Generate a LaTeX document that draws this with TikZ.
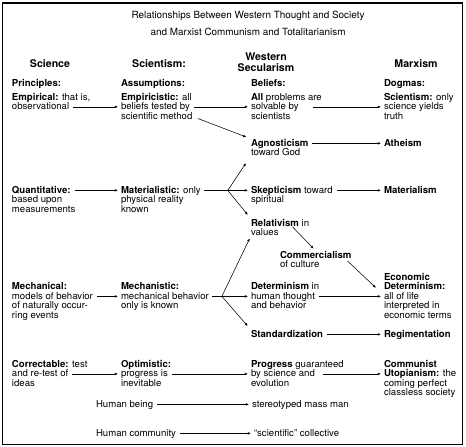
\documentclass[tikz,border=0pt]{standalone}
\usepackage{fontspec}
\setmainfont{TeX Gyre Heros}
\usetikzlibrary{arrows.meta,calc}

\begin{document}
\begin{tikzpicture}[x=1pt, y=-1pt,
    every node/.style={font=\fontsize{9.6}{9.5}\selectfont, anchor=base west, inner sep=0pt, outer sep=0pt},
    ttl/.style={font=\fontsize{9.9}{11}\selectfont, anchor=base},
    hd/.style={font=\fontsize{10.6}{12}\selectfont\bfseries, anchor=base},
    arr/.style={-{Latex[length=3.2pt,width=2.6pt]}, line width=0.55pt, shorten <=4pt, shorten >=3pt},
    ln/.style={line width=0.55pt, shorten <=3pt}]
    \useasboundingbox (0,0) rectangle (466,447);
    % Frame
    \draw[line width=1.6pt] (2.5,3) rectangle (462.5,444.5);

    % Title
    \node[ttl] (t1) at (248,18.5) {Relationships Between Western Thought and Society};
    \node[ttl] (t2) at (248,35.5) {and Marxist Communism and Totalitarianism};

    % Column heads
    \node[hd] (hSci) at (50,67) {Science};
    \node[hd] (hScm) at (159,67) {Scientism:};
    \node[hd] (hWes) at (266,60) {Western};
    \node[hd] (hSec) at (266,71.5) {Secularism};
    \node[hd] (hMar) at (416,67) {Marxism};
    \node (pPri) at (12,86) {\textbf{Principles:}};
    \node (pAss) at (121,86) {\textbf{Assumptions:}};
    \node (pBel) at (251,86) {\textbf{Beliefs:}};
    \node (pDog) at (384,86) {\textbf{Dogmas:}};

    % Empirical row
    \node (emp1) at (12,100) {\textbf{Empirical:} that is,};
    \node (emp2) at (12,109.5) {observational};
    \node (emc1) at (121,100) {\textbf{Empiricistic:} all};
    \node (emc2) at (121,109.5) {beliefs tested by};
    \node (emc3) at (121,119) {scientific method};
    \node (all1) at (251,100) {\textbf{All} problems are};
    \node (all2) at (251,109.5) {solvable by};
    \node (all3) at (251,119) {scientists};
    \node (scm1) at (384,100) {\textbf{Scientism:} only};
    \node (scm2) at (384,109.5) {science yields};
    \node (scm3) at (384,119) {truth};
    \node (agn1) at (251,146) {\textbf{Agnosticism}};
    \node (agn2) at (251,155.5) {toward God};
    \node (ath) at (384,146) {\textbf{Atheism}};

    % Quantitative row
    \node (qua1) at (12,193) {\textbf{Quantitative:}};
    \node (qua2) at (12,202.5) {based upon};
    \node (qua3) at (12,212) {measurements};
    \node (mat1) at (121,193) {\textbf{Materialistic:} only};
    \node (mat2) at (121,202.5) {physical reality};
    \node (mat3) at (121,212) {known};
    \node (skp1) at (251,193) {\textbf{Skepticism} toward};
    \node (skp2) at (251,202.5) {spiritual};
    \node (mtm) at (384,193) {\textbf{Materialism}};
    \node (rel1) at (251,226) {\textbf{Relativism} in};
    \node (rel2) at (251,235.5) {values};
    \node (com1) at (280,258) {\textbf{Commercialism}};
    \node (com2) at (280,267.5) {of culture};

    % Mechanical row
    \node (eco1) at (384,280) {\textbf{Economic}};
    \node (eco2) at (384,289.5) {\textbf{Determinism:}};
    \node (eco3) at (384,299) {all of life};
    \node (eco4) at (384,308.5) {interpreted in};
    \node (eco5) at (384,318) {economic terms};
    \node (mec1) at (12,289.5) {\textbf{Mechanical:}};
    \node (mec2) at (12,299) {models of behavior};
    \node (mec3) at (12,308.5) {of naturally occur-};
    \node (mec4) at (12,318) {ring events};
    \node (mst1) at (121,289.5) {\textbf{Mechanistic:}};
    \node (mst2) at (121,299) {mechanical behavior};
    \node (mst3) at (121,308.5) {only is known};
    \node (det1) at (251,289.5) {\textbf{Determinism} in};
    \node (det2) at (251,299) {human thought};
    \node (det3) at (251,308.5) {and behavior};
    \node (std) at (251,337) {\textbf{Standardization}};
    \node (reg) at (384,337) {\textbf{Regimentation}};

    % Correctable row
    \node (cor1) at (12,367) {\textbf{Correctable:} test};
    \node (cor2) at (12,376.5) {and re-test of};
    \node (cor3) at (12,386) {ideas};
    \node (opt1) at (121,367) {\textbf{Optimistic:}};
    \node (opt2) at (121,376.5) {progress is};
    \node (opt3) at (121,386) {inevitable};
    \node (pro1) at (251,367) {\textbf{Progress} guaranteed};
    \node (pro2) at (251,376.5) {by science and};
    \node (pro3) at (251,386) {evolution};
    \node (uto1) at (384,367) {\textbf{Communist}};
    \node (uto2) at (384,376.5) {\textbf{Utopianism:} the};
    \node (uto3) at (384,386) {coming perfect};
    \node (uto4) at (384,395.5) {classless society};
    \node (hb) at (96,407) {Human being};
    \node (smm) at (252,407) {stereotyped mass man};
    \node (hc) at (96,436) {Human community};
    \node (col) at (254,436) {``scientific'' collective};

    % Connectors
    \draw[arr] (emp2.mid east) -- (emc2.mid west);
    \draw[arr] (emc2.mid east) -- (all2.mid west);
    \draw[arr, shorten <=14pt] (all2.mid east) -- (scm2.mid west);
    \draw[arr, shorten <=6pt, shorten >=5pt] (emc3.mid east) -- (agn1.north west);
    \draw[arr] (agn1.mid east) -- (ath.mid west);
    \draw[arr] (qua1.mid east) -- (mat1.mid west);
    \coordinate (brM) at ($(mat1.mid east)+(27,0)$);
    \draw[ln] (mat1.mid east) -- (brM);
    \draw[arr, shorten <=0pt, shorten >=9pt] (brM) -- (agn2.south west);
    \draw[arr, shorten <=0pt] (brM) -- (skp1.mid west);
    \draw[arr, shorten <=0pt, shorten >=5pt] (brM) -- (rel1.north west);
    \draw[arr] (skp1.mid east) -- (mtm.mid west);
    \draw[arr, shorten <=1pt] ($(rel1.base west)!0.7!(rel1.base east)$) -- (com1.north);
    \draw[arr, shorten <=0pt, shorten >=0pt] ($(com1.base east)+(-4,3)$) -- ($(eco2.mid west)+(-8,1)$);
    \draw[arr] (mec2.mid east) -- (mst2.mid west);
    \coordinate (brD) at ($(mst2.mid east)+(13,0)$);
    \draw[ln] (mst2.mid east) -- (brD);
    \draw[arr, shorten <=0pt] (brD) -- (rel2.south west);
    \draw[arr, shorten <=0pt] (brD) -- (det2.mid west);
    \draw[arr, shorten <=0pt, shorten >=5pt] (brD) -- (std.north west);
    \draw[arr] (det2.mid east) -- (eco3.mid west);
    \draw[arr] (std.mid east) -- (reg.mid west);
    \draw[arr] (cor2.mid east) -- (opt2.mid west);
    \draw[arr] (opt2.mid east) -- (pro2.mid west);
    \draw[arr, shorten <=8pt] (pro2.mid east) -- (uto2.mid west);
    \draw[arr] (hb.mid east) -- (smm.mid west);
    \draw[arr] (hc.mid east) -- (col.mid west);
\end{tikzpicture}
\end{document}
